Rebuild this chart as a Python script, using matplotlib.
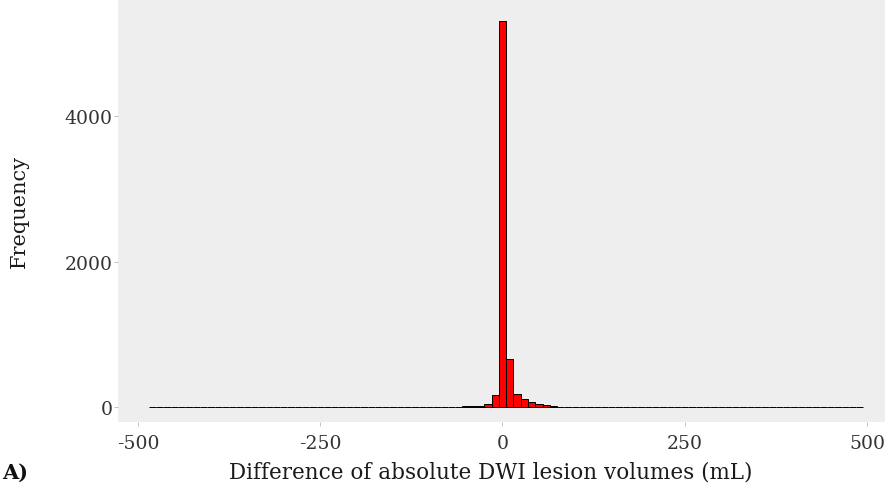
import numpy as np
import matplotlib
matplotlib.use('Agg')
import matplotlib.pyplot as plt

plt.rcParams['font.family'] = 'serif'
plt.rcParams['font.serif'] = ['DejaVu Serif']

# Histogram bins (mL), width 10
bin_width = 10
center_bins = [-20, -10, 0, 10, 20, 30, 40, 50, 60, 70, 80]
center_counts = [40, 165, 5300, 660, 190, 120, 70, 45, 30, 20, 12]

# far tails: left (-480 .. -30) and right (90 .. 490), near zero counts
left_bins = list(range(-480, -20, 10))
left_counts = [0, 0, 1, 0, 0, 0, 0, 1, 0, 0,
               0, 1, 0, 0, 1, 0, 0, 1, 0, 1,
               0, 1, 1, 0, 1, 1, 1, 2, 1, 2,
               2, 2, 3, 3, 4, 4, 5, 6, 7, 8,
               9, 10, 12, 14, 18, 25]
right_bins = list(range(90, 500, 10))
right_counts = [9, 8, 7, 6, 5, 5, 4, 4, 3, 3,
                3, 2, 2, 2, 2, 1, 1, 1, 1, 1,
                1, 0, 1, 1, 0, 1, 0, 0, 1, 0,
                0, 1, 0, 0, 0, 1, 0, 0, 0, 0, 1]

bins = left_bins + center_bins + right_bins
counts = left_counts + center_counts + right_counts

fig = plt.figure(figsize=(8.96, 4.89), dpi=100)
ax = fig.add_axes([0.132, 0.135, 0.856, 0.865])
ax.set_facecolor('#eeeeee')

ax.bar(bins, counts, width=bin_width, color='#ff0000', edgecolor='black',
       linewidth=0.7)

ax.set_xlim(-527, 525)
ax.set_ylim(-200, 5600)
ax.set_xticks([-500, -250, 0, 250, 500])
ax.set_xticklabels(['-500', '-250', '0', '250', '500'])
ax.set_yticks([0, 2000, 4000])
for s in ax.spines.values():
    s.set_visible(False)
ax.tick_params(axis='both', colors='#b8b8b8', labelcolor='#333333',
               labelsize=13.5, length=3, width=0.6)
ax.tick_params(axis='x', pad=6)
ax.tick_params(axis='y', pad=1)

ax.set_xlabel('Difference of absolute DWI lesion volumes (mL)', fontsize=15.5,
              color='#1a1a1a')
ax.xaxis.set_label_coords(0.485, -0.092)
ax.set_ylabel('Frequency', fontsize=15, color='#1a1a1a', labelpad=26)

fig.text(0.002, 0.02, 'A)', fontsize=15, fontweight='bold', color='#111111')

plt.savefig('out.png', dpi=100)
